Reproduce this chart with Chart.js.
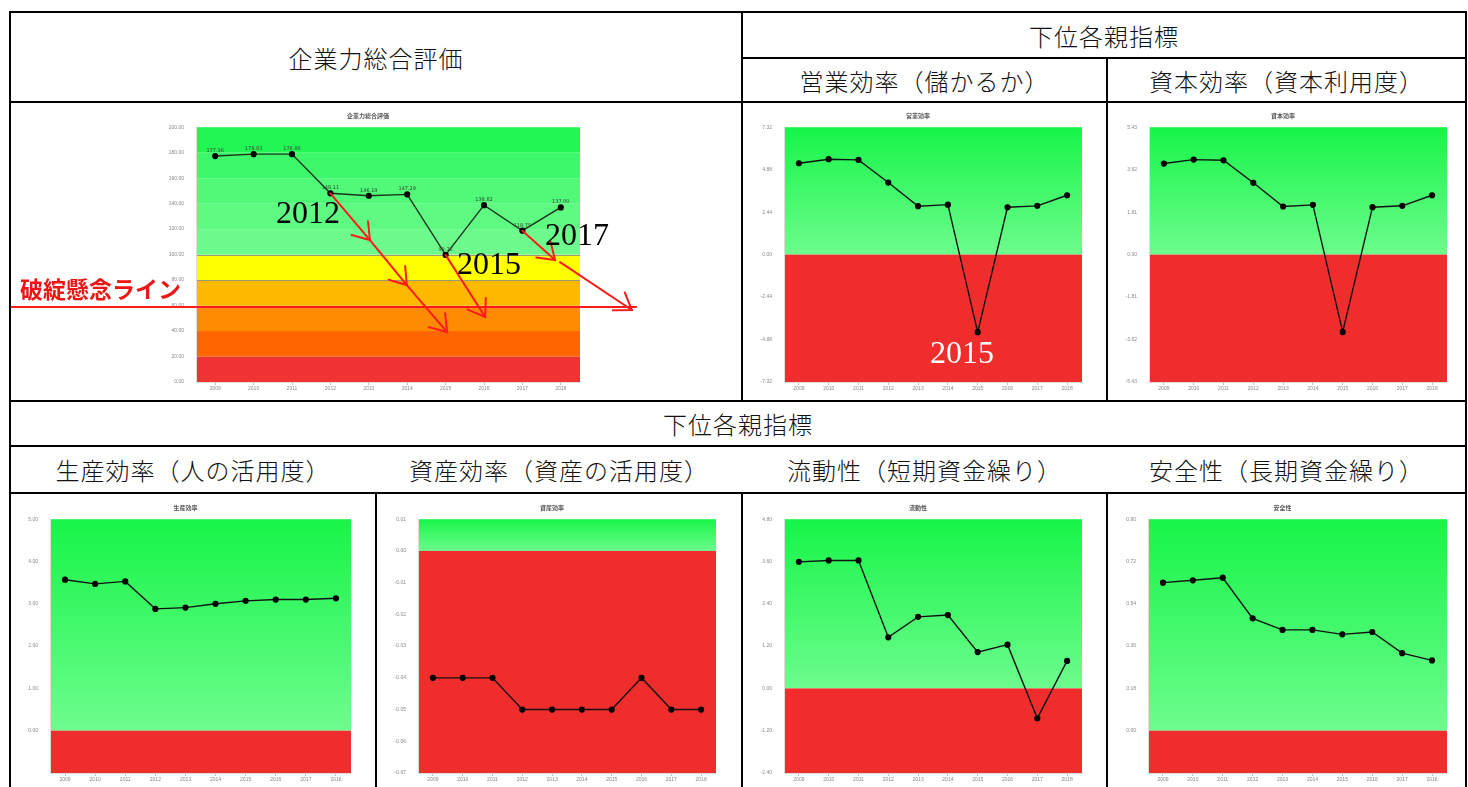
<!DOCTYPE html>
<html>
<head>
<meta charset="utf-8">
<script src="https://cdn.jsdelivr.net/npm/chart.js@4.4.1/dist/chart.umd.min.js"></script>
<style>
  body { margin: 0; background: #fff; width: 1468px; height: 787px; overflow: hidden; position: relative; }
  .ln { position: absolute; background: #000; }
  .cell { position: absolute; }
  .hd { position: absolute; display: flex; align-items: center; justify-content: center;
        font-family: "Noto Sans CJK JP", sans-serif; font-weight: 300; font-size: 24px; color: #111; letter-spacing: 1px; }
  .yr { position: absolute; font-family: "Liberation Serif", "DejaVu Serif", serif; font-size: 32px; line-height: 32px; color: #000; }
  .warn { position: absolute; font-family: "Noto Sans CJK JP", sans-serif; font-weight: bold; font-size: 23px; line-height: 26px; color: #ee1515; }
</style>
</head>
<body>

<!-- table lines -->
<div class="ln" style="left:9px;top:11px;width:1458px;height:2px"></div>
<div class="ln" style="left:9px;top:11px;width:2px;height:776px"></div>
<div class="ln" style="left:1465px;top:11px;width:2px;height:776px"></div>
<div class="ln" style="left:741px;top:11px;width:2px;height:390px"></div>
<div class="ln" style="left:741px;top:57px;width:726px;height:2px"></div>
<div class="ln" style="left:1106px;top:57px;width:2px;height:344px"></div>
<div class="ln" style="left:9px;top:101px;width:1458px;height:2px"></div>
<div class="ln" style="left:9px;top:400px;width:1458px;height:2px"></div>
<div class="ln" style="left:9px;top:445px;width:1458px;height:2px"></div>
<div class="ln" style="left:9px;top:492px;width:1458px;height:2px"></div>
<div class="ln" style="left:375px;top:492px;width:2px;height:295px"></div>
<div class="ln" style="left:741px;top:492px;width:2px;height:295px"></div>
<div class="ln" style="left:1106px;top:492px;width:2px;height:295px"></div>

<!-- headers -->
<div class="hd" style="left:11px;top:13px;width:730px;height:88px">企業力総合評価</div>
<div class="hd" style="left:743px;top:13px;width:722px;height:44px">下位各親指標</div>
<div class="hd" style="left:743px;top:59px;width:363px;height:42px">営業効率（儲かるか）</div>
<div class="hd" style="left:1108px;top:59px;width:357px;height:42px">資本効率（資本利用度）</div>
<div class="hd" style="left:11px;top:402px;width:1454px;height:43px">下位各親指標</div>
<div class="hd" style="left:11px;top:447px;width:364px;height:45px">生産効率（人の活用度）</div>
<div class="hd" style="left:377px;top:447px;width:364px;height:45px">資産効率（資産の活用度）</div>
<div class="hd" style="left:743px;top:447px;width:363px;height:45px">流動性（短期資金繰り）</div>
<div class="hd" style="left:1108px;top:447px;width:357px;height:45px">安全性（長期資金繰り）</div>

<!-- charts -->
<div class="cell" style="left:11px;top:104px;width:730px;height:296px"><canvas id="sogo"></canvas></div>
<div class="cell" style="left:743px;top:104px;width:363px;height:296px"><canvas id="eigyo"></canvas></div>
<div class="cell" style="left:1108px;top:104px;width:357px;height:296px"><canvas id="shihon"></canvas></div>
<div class="cell" style="left:11px;top:494px;width:364px;height:293px"><canvas id="seisan"></canvas></div>
<div class="cell" style="left:377px;top:494px;width:364px;height:293px"><canvas id="shisan"></canvas></div>
<div class="cell" style="left:743px;top:494px;width:363px;height:293px"><canvas id="ryudo"></canvas></div>
<div class="cell" style="left:1108px;top:494px;width:357px;height:293px"><canvas id="anzen"></canvas></div>

<!-- hand annotations -->
<div class="warn" style="left:20px;top:275px">破綻懸念ライン</div>
<div class="yr" style="left:276px;top:196px">2012</div>
<div class="yr" style="left:457px;top:247px">2015</div>
<div class="yr" style="left:545px;top:218px">2017</div>
<div class="yr" style="left:930px;top:336px;color:#fff">2015</div>

<script>
const years = ['2009', '2010', '2011', '2012', '2013', '2014', '2015', '2016', '2017', '2018']

const sogoValues = [177.36, 178.83, 178.86, 148.11, 146.19, 147.29, 99.76, 138.82, 118.75, 137.00]
const sogoTicks = [0, 20, 40, 60, 80, 100, 120, 140, 160, 180, 200]
const sogoBandEdges = [0, 20, 40, 60, 80, 100, 120, 140, 160, 180, 200]
const sogoGrayLines = [60, 80, 100]
const dangerLine = 58.8

const eigyoValues = [5.25, 5.48, 5.44, 4.14, 2.78, 2.87, -4.46, 2.72, 2.80, 3.41]
const eigyoTicks = [-7.32, -4.88, -2.44, 0, 2.44, 4.88, 7.32]
const eigyoTickLabels = ['-7.32', '-4.88', '-2.44', '0.00', '2.44', '4.88', '7.32']

const shihonValues = [3.88, 4.05, 4.02, 3.06, 2.05, 2.12, -3.30, 2.02, 2.08, 2.53]
const shihonTicks = [-5.43, -3.62, -1.81, 0, 1.81, 3.62, 5.43]
const shihonTickLabels = ['-5.43', '-3.62', '-1.81', '0.00', '1.81', '3.62', '5.43']

const seisanValues = [3.57, 3.47, 3.53, 2.88, 2.91, 3.00, 3.07, 3.10, 3.10, 3.13]
const seisanTicks = [-1, 0, 1, 2, 3, 4, 5]
const seisanTickLabels = ['', '0.00', '1.00', '2.00', '3.00', '4.00', '5.00']

const shisanValues = [-0.04, -0.04, -0.04, -0.05, -0.05, -0.05, -0.05, -0.04, -0.05, -0.05]
const shisanTicks = [-0.07, -0.06, -0.05, -0.04, -0.03, -0.02, -0.01, 0, 0.01]
const shisanTickLabels = ['-0.07', '-0.06', '-0.05', '-0.04', '-0.03', '-0.02', '-0.01', '0.00', '0.01']

const ryudoValues = [3.59, 3.63, 3.63, 1.45, 2.03, 2.08, 1.03, 1.24, -0.85, 0.78]
const ryudoTicks = [-2.4, -1.2, 0, 1.2, 2.4, 3.6, 4.8]
const ryudoTickLabels = ['-2.40', '-1.20', '0.00', '1.20', '2.40', '3.60', '4.80']

const anzenValues = [0.630, 0.640, 0.651, 0.478, 0.429, 0.429, 0.410, 0.420, 0.330, 0.299]
const anzenTicks = [-0.18, 0, 0.18, 0.36, 0.54, 0.72, 0.9]
const anzenTickLabels = ['', '0.00', '0.18', '0.36', '0.54', '0.72', '0.90']

// red hand-drawn arrows, in (category index, value) space
const arrowPaths = [
  [[3, 148.11], [4.03, 111.4], [4.99, 76.1], [6.04, 39.2]],
  [[6, 99.76], [7.03, 51]],
  [[8, 118.75], [8.85, 95.7]],
  [[8.98, 94.1], [10.85, 56.5]]
]

const sogoBandColors = ['#f03232', '#ff6500', '#ff8c00', '#ffba00', '#ffff00',
  '#6cfb8c', '#5ffa82', '#50f977', '#3ef86b', '#22f655']

const bands = {
  id: 'bands',
  beforeDraw(chart, args, o) {
    const ctx = chart.ctx, a = chart.chartArea, y = chart.scales.y
    ctx.save()
    if (o.edges) {
      for (let i = 0; i < o.edges.length - 1; i++) {
        const y0 = y.getPixelForValue(o.edges[i]), y1 = y.getPixelForValue(o.edges[i + 1])
        ctx.fillStyle = o.colors[i]
        ctx.fillRect(a.left, y1, a.width, y0 - y1)
      }
      ctx.strokeStyle = '#9a9a7a'
      ctx.lineWidth = 1.2
      o.lines.forEach(v => {
        const py = Math.round(y.getPixelForValue(v)) + 0.5
        ctx.beginPath(); ctx.moveTo(a.left, py); ctx.lineTo(a.right, py); ctx.stroke()
      })
    } else {
      const z = y.getPixelForValue(0)
      const g = ctx.createLinearGradient(0, a.top, 0, z)
      g.addColorStop(0, '#17f548')
      g.addColorStop(1, '#6dfc8d')
      ctx.fillStyle = g
      ctx.fillRect(a.left, a.top, a.width, z - a.top)
      ctx.fillStyle = '#f02d2d'
      ctx.fillRect(a.left, z, a.width, a.bottom - z)
    }
    ctx.restore()
  }
}

const pointLabels = {
  id: 'pointLabels',
  afterDatasetsDraw(chart) {
    const ctx = chart.ctx
    const meta = chart.getDatasetMeta(0)
    ctx.save()
    ctx.font = '5px "DejaVu Sans"'
    ctx.fillStyle = '#334433'
    ctx.textAlign = 'center'
    meta.data.forEach((p, i) => {
      ctx.fillText(chart.data.datasets[0].data[i].toFixed(2), p.x, p.y - 4)
    })
    ctx.restore()
  }
}

function drawArrow(ctx, x0, y0, x1, y1) {
  ctx.beginPath(); ctx.moveTo(x0, y0); ctx.lineTo(x1, y1); ctx.stroke()
  const ang = Math.atan2(y1 - y0, x1 - x0)
  const len = 19
  ctx.beginPath()
  ctx.moveTo(x1 - len * Math.cos(ang - 0.6), y1 - len * Math.sin(ang - 0.6))
  ctx.lineTo(x1, y1)
  ctx.lineTo(x1 - len * Math.cos(ang + 0.6), y1 - len * Math.sin(ang + 0.6))
  ctx.stroke()
}

const annotations = {
  id: 'annotations',
  afterDraw(chart) {
    const ctx = chart.ctx, x = chart.scales.x, y = chart.scales.y
    ctx.save()
    ctx.strokeStyle = '#ff1a1a'
    ctx.lineWidth = 2
    ctx.lineCap = 'round'
    const ly = y.getPixelForValue(dangerLine)
    ctx.beginPath(); ctx.moveTo(0, ly); ctx.lineTo(x.getPixelForValue(10.96), ly); ctx.stroke()
    arrowPaths.forEach(path => {
      for (let i = 1; i < path.length; i++) {
        drawArrow(ctx,
          x.getPixelForValue(path[i - 1][0]), y.getPixelForValue(path[i - 1][1]),
          x.getPixelForValue(path[i][0]), y.getPixelForValue(path[i][1]))
      }
    })
    ctx.restore()
  }
}

function makeChart(id, title, values, tickVals, tickLabels, pad, titlePad, bandOpts, extra) {
  return new Chart(document.getElementById(id), {
    type: 'line',
    data: {
      labels: years,
      datasets: [{
        data: values,
        borderColor: extra ? '#1c301c' : '#111',
        borderWidth: 1.4,
        pointRadius: 2.4,
        pointBackgroundColor: '#000',
        pointBorderColor: '#000',
        tension: 0
      }]
    },
    options: {
      responsive: true,
      maintainAspectRatio: false,
      animation: false,
      layout: { padding: pad },
      plugins: {
        legend: { display: false },
        tooltip: { enabled: false },
        title: { display: true, text: title, color: '#555', font: { size: 6, family: 'Noto Sans CJK JP' }, padding: titlePad },
        bands: bandOpts
      },
      scales: {
        x: {
          offset: true,
          grid: { drawOnChartArea: false, tickLength: 3, color: '#bbb' },
          border: { color: '#ddd' },
          ticks: { font: { size: 5 }, color: '#888', maxRotation: 0, padding: 1 },
          afterFit: s => { s.height = 14 }
        },
        y: {
          min: tickVals[0],
          max: tickVals[tickVals.length - 1],
          afterBuildTicks: s => { s.ticks = tickVals.map(v => ({ value: v })) },
          grid: { display: false },
          border: { color: '#ddd' },
          ticks: { font: { size: 5 }, color: '#888', padding: 4, callback: (v, i) => tickLabels[i] },
          afterFit: s => { s.width = extra ? 40 : 30 }
        }
      }
    },
    plugins: extra ? [bands, pointLabels, annotations] : [bands]
  })
}

const topPad = { top: 8, bottom: 8 }
const botPad = { top: 10, bottom: 8 }
const zeroBands = { zero: true }

makeChart('sogo', '企業力総合評価', sogoValues, sogoTicks, sogoTicks.map(v => v.toFixed(2)),
  { left: 145, right: 161, top: 0, bottom: 4 }, topPad,
  { edges: sogoBandEdges, colors: sogoBandColors, lines: sogoGrayLines }, true)
makeChart('eigyo', '営業効率', eigyoValues, eigyoTicks, eigyoTickLabels,
  { left: 11, right: 24, top: 0, bottom: 4 }, topPad, zeroBands)
makeChart('shihon', '資本効率', shihonValues, shihonTicks, shihonTickLabels,
  { left: 11, right: 18, top: 0, bottom: 4 }, topPad, zeroBands)
makeChart('seisan', '生産効率', seisanValues, seisanTicks, seisanTickLabels,
  { left: 9, right: 24, top: 0, bottom: 0 }, botPad, zeroBands)
makeChart('shisan', '資産効率', shisanValues, shisanTicks, shisanTickLabels,
  { left: 11, right: 25, top: 0, bottom: 0 }, botPad, zeroBands)
makeChart('ryudo', '流動性', ryudoValues, ryudoTicks, ryudoTickLabels,
  { left: 11, right: 24, top: 0, bottom: 0 }, botPad, zeroBands)
makeChart('anzen', '安全性', anzenValues, anzenTicks, anzenTickLabels,
  { left: 10, right: 18, top: 0, bottom: 0 }, botPad, zeroBands)
</script>
</body>
</html>
